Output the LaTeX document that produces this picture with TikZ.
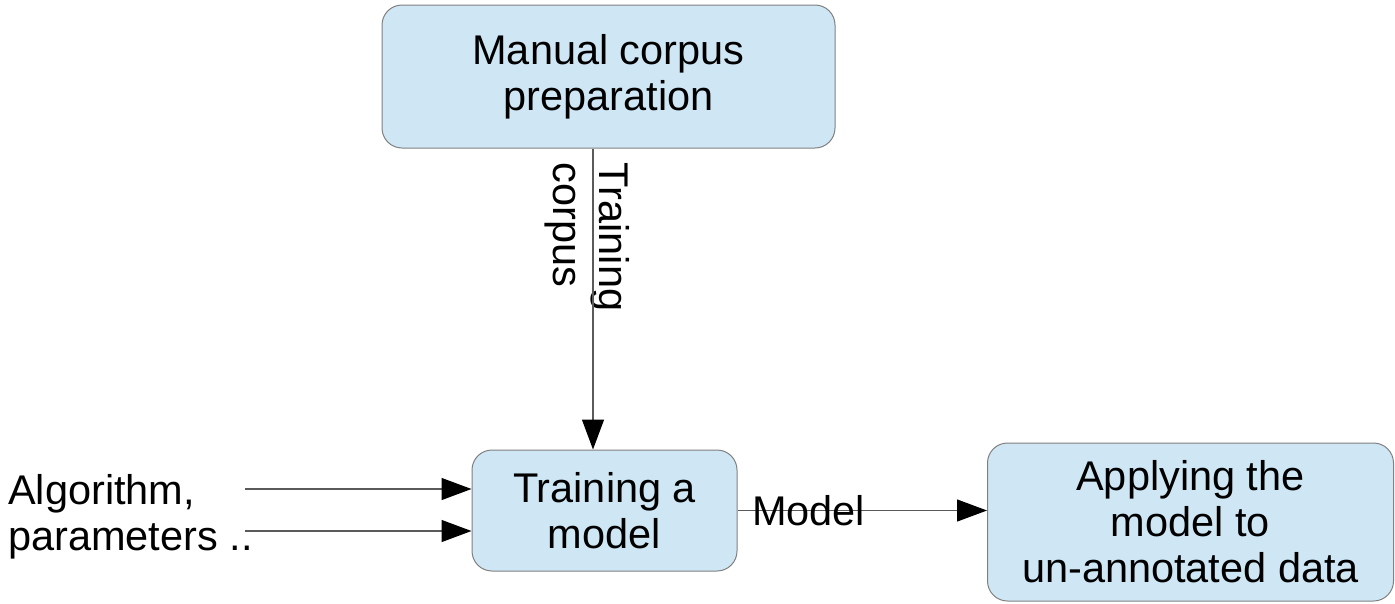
\documentclass[tikz,border=0pt]{standalone}
\usepackage{fontspec}
\setmainfont{Liberation Sans}
\usetikzlibrary{arrows.meta}
\definecolor{boxfill}{RGB}{207,231,245}
\definecolor{boxline}{RGB}{128,128,128}
\definecolor{linegray}{RGB}{90,90,90}
\begin{document}
\begin{tikzpicture}[x=1pt,y=-1pt,
  box/.style={draw=boxline, line width=1pt, fill=boxfill, rounded corners=20pt,
    align=center, inner sep=0pt, font=\fontsize{41.5}{46}\selectfont},
  flow/.style={draw=linegray, line width=1.3pt,
    -{Triangle[length=30pt,width=22pt,color=black]}},
  lbl/.style={inner sep=0pt, font=\fontsize{41.5}{46}\selectfont}]
\useasboundingbox (0,0) rectangle (1395,603);
\node[box, minimum width=453pt, minimum height=143pt] (prep) at (608.5,76.5) {Manual corpus\\preparation};
\node[box, minimum width=265pt, minimum height=121pt] (train) at (604.5,510.5) {Training a\\model};
\node[box, minimum width=406pt, minimum height=158pt] (apply) at (1190.5,522) {Applying the\\model to\\un-annotated data};
\node[lbl, align=left, anchor=west] (params) at (8,517) {Algorithm,\\parameters ..};
\node[lbl, align=left, rotate=-90] (tclabel) at (587,237) {Training\\corpus};
\coordinate (vx) at (593,0);
\coordinate (a1) at (245,489);
\coordinate (a2) at (245,531);
\draw[flow] (prep.south -| vx) -- (train.north -| vx);
\draw[flow] (a1) -- (a1 -| train.west);
\draw[flow] (a2) -- (a2 -| train.west);
\draw[flow] (train.east) -- node[lbl, pos=0.285] (modellbl) {Model} (train.east -| apply.west);
\end{tikzpicture}
\end{document}
